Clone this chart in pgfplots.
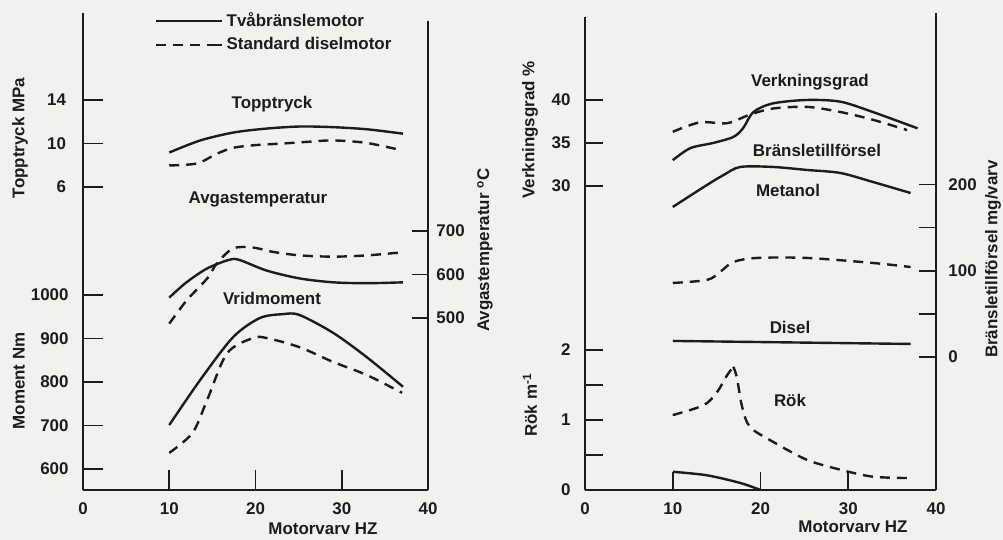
\documentclass[border=0pt]{standalone}
\usepackage{fontspec}
\setmainfont{Liberation Sans}
\usepackage{pgfplots}
\pgfplotsset{compat=1.18}
\definecolor{Paper}{RGB}{242,241,238}
\definecolor{Ink}{RGB}{28,28,28}
\newcommand\lab{\bfseries\fontsize{8.5}{10}\selectfont}

\pgfplotsset{
  panel/.style={scale only axis, xmin=0, xmax=40,
    tick align=inside, major tick length=10bp,
    axis line style={draw=Ink, line width=1bp},
    tick style={draw=Ink, line width=0.8bp},
    ticklabel style={font=\lab, text=Ink},
    /pgf/number format/assume math mode=true,
    /pgf/number format/set thousands separator={},
    clip=false},
  frame/.style={axis x line*=bottom, axis y line*=left,
    xtick={0,10,20,30,40}, xticklabel style={yshift=-3bp}},
  ghost/.style={hide x axis, axis y line*=left, y axis line style={draw=none}},
  side/.style={hide x axis, axis y line*=right},
  full/.style={draw=Ink, line width=1.2bp, smooth, tension=0.5, mark=none},
  dash/.style={draw=Ink, line width=1.2bp, smooth, tension=0.5, mark=none, dash pattern=on 5bp off 3.5bp},
}

\begin{document}
\begin{tikzpicture}
\begin{scope}[x=0.5bp,y=0.5bp]
\fill[Paper] (0,0) rectangle (1003,540);
\path[use as bounding box] (0,0) rectangle (1003,540);
\end{scope}

% ---- left panel: moment
\begin{axis}[panel, frame, at={(41.5bp,25bp)}, anchor=south west,
  width=172.5bp, height=238.5bp, ymin=551.7, ymax=1648.3,
  ytick={600,700,800,900,1000}, yticklabel style={xshift=-3.7bp},
  legend style={draw=none, fill=none, font=\lab, text=Ink,
    at={(rel axis cs:0.191,1)}, anchor=north west, yshift=4bp,
    nodes={inner sep=1.5bp}, row sep=1bp},
  legend cell align=left,
  legend image code/.code={\draw[#1] (0bp,0bp) -- (28bp,0bp); \path (28bp,0bp) -- (33bp,0bp);}]
\addplot[full] coordinates {(10,701) (13.6,805) (17.4,903) (20.5,947) (23.2,956) (25.1,954) (29,913) (32.9,857) (37.1,789)};
\addlegendentry{Tvåbränslemotor}
\addplot[dash] coordinates {(10,637) (12.7,683) (14.4,759) (16.7,866) (19.7,901) (21.3,901) (25.1,880) (29,846) (32.9,816) (37,775)};
\addlegendentry{Standard diselmotor}
\end{axis}

% ---- left panel: peak pressure
\begin{axis}[panel, ghost, at={(41.5bp,25bp)}, anchor=south west,
  width=172.5bp, height=238.5bp, ymin=-21.86, ymax=22.0,
  ytick={6,10,14}, yticklabel style={xshift=-5bp}]
\addplot[full] coordinates {(10,9.17) (13.6,10.28) (17.4,11.0) (21,11.35) (25.1,11.56) (29,11.5) (33,11.3) (37.1,10.9)};
\addplot[dash] coordinates {(10,7.98) (13.2,8.16) (15.5,9.05) (17.4,9.6) (20,9.85) (23.2,10.0) (26,10.15) (29,10.28) (32.9,10.05) (37,9.36)};
\end{axis}

% ---- left panel: exhaust temperature
\begin{axis}[panel, side, at={(41.5bp,25bp)}, anchor=south west,
  width=172.5bp, height=234.5bp, ymin=104.6, ymax=1182.8,
  ytick={500,600,700}, major tick length=8bp, yticklabel style={xshift=0.7bp}]
\addplot[full] coordinates {(10,547) (12,582) (14.4,614) (17,634) (18.2,633) (21.3,609) (25.1,591) (29,582) (33,580) (37.1,582)};
\addplot[dash] coordinates {(10,487) (12,540) (14.4,591) (15.5,625) (17.4,660) (19.7,662) (22,652) (25.1,644) (29,641) (33,644) (37,651)};
\end{axis}

% ---- right panel: smoke
\begin{axis}[panel, frame, at={(292.5bp,25bp)}, anchor=south west,
  width=175.5bp, height=236.5bp, ymin=0, ymax=6.757,
  ytick={0,0.5,1,1.5,2}, yticklabels={0,,1,,2}, major tick length=9bp,
  yticklabel style={xshift=-3.7bp}]
\addplot[dash] coordinates {(10,1.07) (13.5,1.21) (15,1.39) (16.2,1.64) (16.9,1.76)};
\addplot[dash] coordinates {(16.9,1.76) (17.3,1.61) (17.9,1.19) (18.8,0.9) (21.4,0.69) (25.3,0.43) (29.1,0.29) (32.8,0.19) (37.1,0.17)};
\addplot[full] coordinates {(10,0.26) (13.9,0.21) (17.7,0.1) (20,0)};
\end{axis}

% ---- right panel: efficiency
\begin{axis}[panel, ghost, at={(292.5bp,25bp)}, anchor=south west,
  width=175.5bp, height=236.5bp, ymin=-5.35, ymax=49.65,
  ytick={30,35,40}, major tick length=9bp, yticklabel style={xshift=-3.7bp}]
\addplot[full] coordinates {(10,33.0) (12,34.4) (14.6,35.0) (16.9,35.7) (18,36.7) (19.2,38.6) (21.4,39.6) (25.3,40.0) (29.1,39.8) (32.8,38.6) (37.9,36.7)};
\addplot[dash] coordinates {(10,36.3) (13.1,37.4) (16.2,37.3) (18.8,38.3) (21.4,39.0) (25.3,39.2) (29.1,38.6) (32.8,37.7) (36.7,36.5)};
\end{axis}

% ---- right panel: fuel supply
\begin{axis}[panel, side, at={(292.5bp,25bp)}, anchor=south west,
  width=175.5bp, height=238.5bp, ymin=-154.2, ymax=398.8,
  ytick={0,50,100,150,200}, yticklabels={0,,100,,200}, major tick length=8.5bp,
  yticklabel style={xshift=2.7bp}]
\addplot[full] coordinates {(10,173.9) (13.9,199.4) (15.8,211) (17.7,220.3) (21.4,220.3) (25.3,216.8) (29.1,213.3) (32.8,202.9) (37.1,190.1)};
\addplot[dash] coordinates {(10,85.8) (13.9,89.3) (15.4,98.6) (16.9,110.1) (19.6,114.8) (25.3,114.8) (32.8,109.0) (37.1,104.3)};
\addplot[full] coordinates {(10,18.6) (37.1,15.1)};
\end{axis}

% ---- texts
\begin{scope}[x=0.5bp,y=0.5bp,every node/.style={font=\lab, text=Ink, inner sep=0pt}]
\node at (272,436) {Topptryck};
\node at (258,341) {Avgastemperatur};
\node at (272,242) {Vridmoment};
\node at (323,11) {Motorvarv HZ};
\node[rotate=90] at (20,402) {Topptryck MPa};
\node[rotate=90] at (19,159) {Moment Nm};
\node[rotate=90] at (485,290) {Avgastemperatur \textsuperscript{o}C};
\node at (810,458) {Verkningsgrad};
\node at (817,390) {Bränsletillförsel};
\node at (788,350) {Metanol};
\node at (790,213) {Disel};
\node at (790,140) {Rök};
\node at (853,13) {Motorvarv HZ};
\node[rotate=90] at (530,410) {Verkningsgrad \%};
\node[rotate=90] at (530,135) {Rök m\textsuperscript{-1}};
\node[rotate=90] at (993,281) {Bränsletillförsel mg/varv};
\end{scope}
\end{tikzpicture}
\end{document}
